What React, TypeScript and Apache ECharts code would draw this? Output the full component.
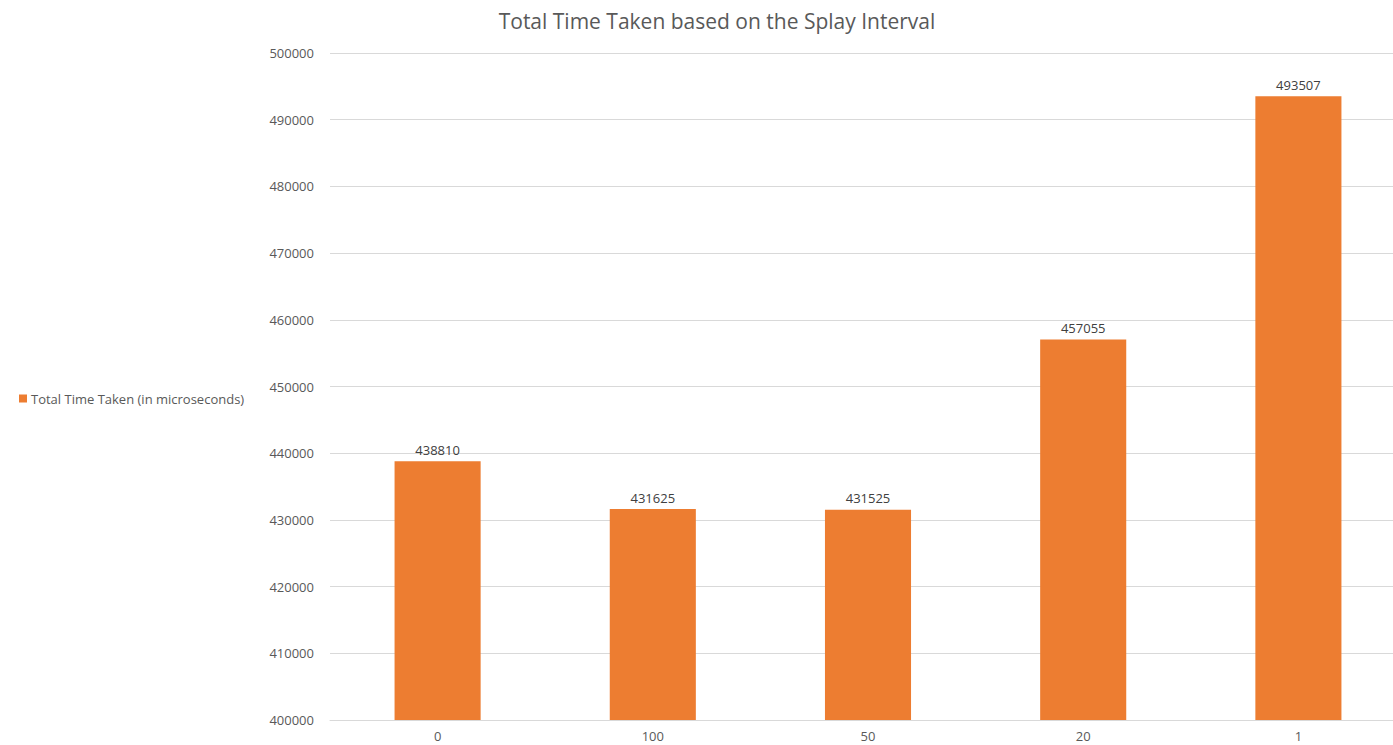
import React, { useEffect, useRef } from "react";
import * as echarts from "echarts";

const chartTitle = "Total Time Taken based on the Splay Interval";
const seriesName = "Total Time Taken (in microseconds)";
const splayIntervals = ["0", "100", "50", "20", "1"];
const totalTimeTaken = [438810, 431625, 431525, 457055, 493507];
const yMin = 400000;
const yMax = 500000;
const yStep = 10000;

const FONT = "'Open Sans', 'Noto Sans', sans-serif";

export default function App() {
  const ref = useRef<HTMLDivElement>(null);

  useEffect(() => {
    if (!ref.current) return;
    const chart = echarts.init(ref.current, null, { renderer: "svg" });
    chart.setOption({
      animation: false,
      backgroundColor: "#ffffff",
      title: {
        text: chartTitle,
        left: 712,
        textAlign: "center",
        top: 5,
        textStyle: { fontFamily: FONT, fontSize: 21, fontWeight: "normal", color: "#595959" },
      },
      legend: {
        orient: "vertical",
        left: 14,
        top: 387,
        icon: "rect",
        itemWidth: 8,
        itemHeight: 8,
        itemGap: 5,
        textStyle: { fontFamily: FONT, fontSize: 13, color: "#595959", padding: [0, 0, 0, -1] },
        data: [seriesName],
      },
      // plot area runs slightly past the right edge of the visible frame
      grid: { left: 330, top: 53, width: 1076, height: 667, containLabel: false },
      xAxis: {
        type: "category",
        data: splayIntervals,
        axisLine: { lineStyle: { color: "#d9d9d9", width: 1 } },
        axisTick: { show: false },
        axisLabel: { fontFamily: FONT, fontSize: 13, color: "#595959", margin: 9 },
      },
      yAxis: {
        type: "value",
        min: yMin,
        max: yMax,
        interval: yStep,
        axisLine: { show: false },
        axisTick: { show: false },
        splitLine: { lineStyle: { color: "#d9d9d9", width: 1 } },
        axisLabel: {
          fontFamily: FONT,
          fontSize: 13,
          color: "#595959",
          margin: 16,
          formatter: (v: number) => String(v),
        },
      },
      series: [
        {
          name: seriesName,
          type: "bar",
          data: totalTimeTaken,
          barWidth: "40%",
          itemStyle: { color: "#ed7d31" },
          label: {
            show: true,
            position: "top",
            distance: 5,
            fontFamily: FONT,
            fontSize: 13,
            color: "#404040",
          },
        },
      ],
    });
    return () => chart.dispose();
  }, []);

  return (
    <div
      style={{
        position: "fixed",
        left: 0,
        top: 0,
        width: 1393,
        height: 745,
        overflow: "hidden",
        background: "#fff",
      }}
    >
      <div ref={ref} style={{ width: 1420, height: 745 }} />
    </div>
  );
}
